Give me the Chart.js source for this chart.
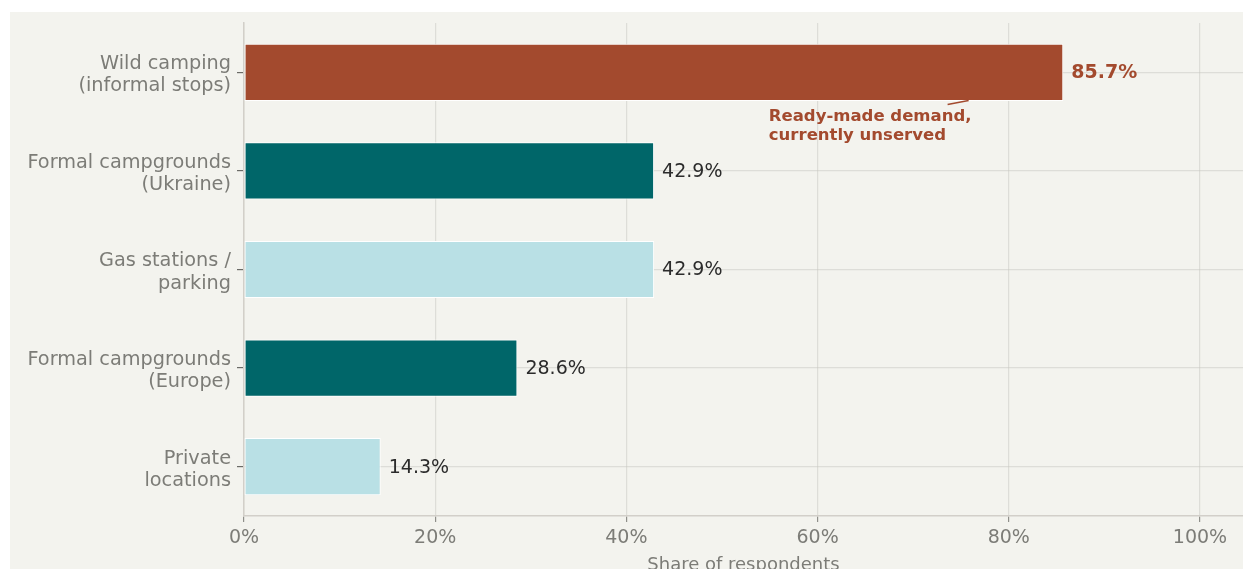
<!DOCTYPE html>
<html>
<head>
<meta charset="utf-8">
<script src="https://cdn.jsdelivr.net/npm/chart.js@4.4.1/dist/chart.umd.min.js"></script>
<style>
  html, body { margin: 0; padding: 0; background: #ffffff; overflow: hidden; }
  #panel {
    position: absolute; left: 10px; top: 12px;
    width: 1233px; height: 580px;
    background: #f3f3ee;
  }
</style>
</head>
<body>
<div id="panel"><canvas id="chart" width="1233" height="580"></canvas></div>
<script>
// where people stop overnight
const categories = [
  ['Wild camping', '(informal stops)'],
  ['Formal campgrounds', '(Ukraine)'],
  ['Gas stations /', 'parking'],
  ['Formal campgrounds', '(Europe)'],
  ['Private', 'locations']
];
const shares = [85.7, 42.9, 42.9, 28.6, 14.3];
const barColors = ['#a34a2e', '#006669', '#b9e0e5', '#006669', '#b9e0e5'];
const xTicks = [0, 20, 40, 60, 80, 100];
const callout = ['Ready-made demand,', 'currently unserved'];

const FONT = "'DejaVu Sans', sans-serif";
const GREY = '#7c7c77';
const RUST = '#a34a2e';
const GRID = 'rgba(200, 200, 194, 0.5)';

// value labels at the bar ends
const valueLabels = {
  id: 'valueLabels',
  afterDatasetsDraw(chart) {
    const { ctx } = chart;
    const meta = chart.getDatasetMeta(0);
    ctx.save();
    ctx.textBaseline = 'middle';
    ctx.textAlign = 'left';
    meta.data.forEach((bar, i) => {
      const first = i === 0;
      ctx.font = (first ? 'bold ' : '') + '19px ' + FONT;
      ctx.fillStyle = first ? RUST : '#2b2b2b';
      ctx.fillText(shares[i].toFixed(1) + '%', bar.x + 8, bar.y + 1);
    });
    ctx.restore();
  }
};

// note under the top bar, with a short pointer line
const calloutNote = {
  id: 'calloutNote',
  afterDatasetsDraw(chart) {
    const { ctx } = chart;
    const x = chart.scales.x;
    const bar = chart.getDatasetMeta(0).data[0];
    const bottom = bar.y + bar.height / 2;
    ctx.save();
    ctx.strokeStyle = RUST;
    ctx.lineWidth = 1.5;
    ctx.beginPath();
    ctx.moveTo(x.getPixelForValue(73.6), bottom + 3.5);
    ctx.lineTo(x.getPixelForValue(75.8), bottom - 0.5);
    ctx.stroke();
    ctx.font = 'bold 16.5px ' + FONT;
    ctx.fillStyle = RUST;
    ctx.textBaseline = 'middle';
    ctx.textAlign = 'left';
    callout.forEach((line, k) => {
      ctx.fillText(line, x.getPixelForValue(54.9), bottom + 16 + k * 18.5);
    });
    ctx.restore();
  }
};

new Chart(document.getElementById('chart'), {
  type: 'bar',
  data: {
    labels: categories,
    datasets: [{
      data: shares,
      backgroundColor: barColors,
      borderColor: '#ffffff',
      borderWidth: 1,
      borderSkipped: false,
      categoryPercentage: 1,
      barPercentage: 0.58
    }]
  },
  options: {
    indexAxis: 'y',
    responsive: false,
    animation: false,
    events: [],
    layout: { padding: { top: 11, right: 0, bottom: 12, left: 0 } },
    plugins: {
      legend: { display: false },
      tooltip: { enabled: false }
    },
    scales: {
      x: {
        type: 'linear',
        min: 0,
        max: 104.5,
        z: 1,
        afterFit: (scale) => {
          scale.height = 64;
          scale.paddingLeft = 0;
          scale.paddingRight = 0;
        },
        afterBuildTicks: (scale) => {
          scale.ticks = xTicks.map(v => ({ value: v }));
        },
        ticks: {
          callback: (v) => v + '%',
          color: GREY,
          font: { family: FONT, size: 19 },
          padding: 5,
          maxRotation: 0
        },
        grid: {
          color: GRID,
          lineWidth: 1.2,
          tickLength: 6,
          tickColor: '#8f8f8a'
        },
        border: { color: '#d2cfc9', width: 1.5 },
        title: {
          display: true,
          text: 'Share of respondents',
          color: GREY,
          font: { family: FONT, size: 18 }
        }
      },
      y: {
        type: 'category',
        offset: true,
        z: 1,
        afterFit: (scale) => {
          scale.width = 234;
          scale.paddingTop = 0;
          scale.paddingBottom = 0;
        },
        ticks: {
          color: GREY,
          font: { family: FONT, size: 19.3, lineHeight: 1.15 },
          padding: 6,
          labelOffset: 3,
          crossAlign: 'near'
        },
        grid: {
          offset: false,
          color: GRID,
          lineWidth: 1.2,
          tickLength: 7,
          tickColor: '#6b6b67'
        },
        border: { color: '#d2cfc9', width: 1.5 }
      }
    }
  },
  plugins: [valueLabels, calloutNote]
});
</script>
</body>
</html>
